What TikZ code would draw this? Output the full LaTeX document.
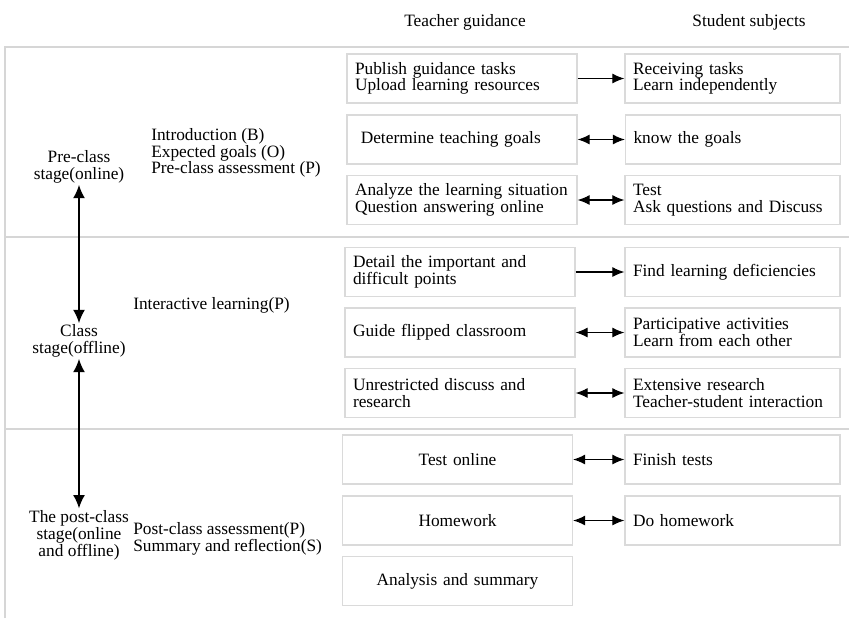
\documentclass[tikz,border=0pt]{standalone}
\usepackage{fontspec}
\setmainfont{Liberation Serif}
\usetikzlibrary{arrows.meta,positioning}
\definecolor{framegray}{RGB}{214,214,214}
\definecolor{boxgray}{RGB}{218,218,218}

\tikzset{
  tbox/.style={draw=boxgray, line width=1pt, minimum width=172.5pt, minimum height=36.75pt,
    text width=160.5pt, inner xsep=6pt, align=left},
  tcbox/.style={tbox, align=center},
  sbox/.style={draw=boxgray, line width=1pt, minimum width=161.25pt, minimum height=36.75pt,
    text width=149.25pt, inner xsep=6pt, align=left},
  stage/.style={align=center, inner sep=1pt},
  phase/.style={align=left, inner sep=0pt, anchor=west},
  link/.style={-{Latex[length=9pt,width=7.5pt]}, line width=0.8pt},
  dlink/.style={{Latex[length=9pt,width=7.5pt]}-{Latex[length=9pt,width=7.5pt]}, line width=0.8pt},
  vlink/.style={{Latex[length=10pt,width=9pt]}-{Latex[length=10pt,width=9pt]}, line width=1.3pt},
}

\begin{document}
\begin{tikzpicture}[x=0.75pt, y=-0.75pt, every node/.style={font=\fontsize{13}{12.5}\selectfont}]
  \useasboundingbox (0,0) rectangle (849,618);

  % frame and stage separators
  \draw[framegray, line width=1.5pt] (5,618) -- (5,47) -- (849,47);
  \draw[framegray, line width=1.5pt] (5,237) -- (849,237);
  \draw[framegray, line width=1.5pt] (5,429) -- (849,429);

  % column heads
  \node (thead) at (465,22) {Teacher guidance};
  \node (shead) at (749,22) {Student subjects};

  % stages
  \node[stage] (pre) at (79,167) {Pre-class\\stage(online)};
  \node[stage] (cls) at (79,341) {Class\\stage(offline)};
  \node[stage, font=\fontsize{13}{11.3}\selectfont] (post) at (79,535) {The post-class\\stage(online\\and offline)};
  \draw[vlink] (pre) -- (cls);
  \draw[vlink] (cls) -- (post);

  \node[phase] (prephase) at (151,153) {Introduction (B)\\Expected goals (O)\\Pre-class assessment (P)};
  \node[phase] (clsphase) at (133,305) {Interactive learning(P)};
  \node[phase] (postphase) at (133,539) {Post-class assessment(P)\\Summary and reflection(S)};

  % pre-class stage
  \node[tbox] (t1) at (462,78.5) {Publish guidance tasks\\Upload learning resources};
  \node[sbox] (s1) at (732.5,78.5) {Receiving tasks\\Learn independently};
  \node[tbox] (t2) at (462,139.5) {\ Determine teaching goals};
  \node[sbox] (s2) at (733,139.5) {know the goals};
  \node[tbox] (t3) at (462,200) {Analyze the learning situation\\Question answering online};
  \node[sbox] (s3) at (732.5,200) {Test\\Ask questions and Discuss};
  \draw[link] (t1) -- (s1);
  \draw[dlink] (t2) -- (s2);
  \draw[dlink] (t3) -- (s3);

  % class stage
  \node[tbox] (t4) at (460,272) {Detail the important and\\difficult points};
  \node[sbox] (s4) at (732.5,272) {Find learning deficiencies};
  \node[tbox] (t5) at (460,332.5) {Guide flipped classroom};
  \node[sbox] (s5) at (732.5,332.5) {Participative activities\\Learn from each other};
  \node[tbox] (t6) at (460,393) {Unrestricted discuss and\\research};
  \node[sbox] (s6) at (732.5,393) {Extensive research\\Teacher-student interaction};
  \draw[link] (t4) -- (s4);
  \draw[dlink] (t5) -- (s5);
  \draw[dlink] (t6) -- (s6);

  % post-class stage
  \node[tcbox] (t7) at (457.5,459.5) {Test online};
  \node[sbox] (s7) at (732.5,459.5) {Finish tests};
  \node[tcbox] (t8) at (457.5,520.5) {Homework};
  \node[sbox] (s8) at (732.5,520.5) {Do homework};
  \node[tcbox] (t9) at (457.5,581) {Analysis and summary};
  \draw[dlink] (t7) -- (s7);
  \draw[dlink] (t8) -- (s8);
\end{tikzpicture}
\end{document}
